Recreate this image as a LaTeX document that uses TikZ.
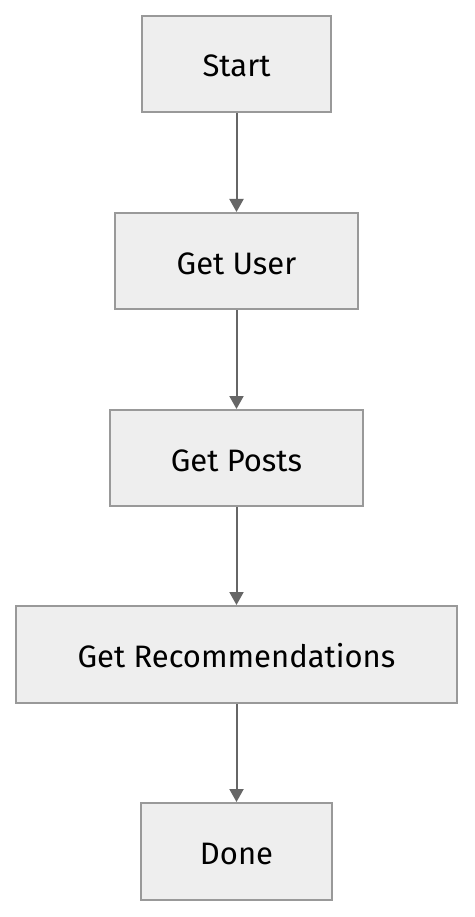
\documentclass[tikz,border=0pt]{standalone}
\usepackage{fontspec}
\setmainfont{Fira Sans}
\usetikzlibrary{arrows.meta}
\definecolor{boxfill}{HTML}{EEEEEE}
\definecolor{boxline}{HTML}{999999}
\definecolor{arrowc}{HTML}{666666}
\begin{document}
\begin{tikzpicture}[x=1pt,y=-1pt,
  stepbox/.style={draw=boxline,fill=boxfill,line width=2pt,inner sep=0pt,
    minimum height=96pt,text height=26pt,text depth=0pt,
    font=\fontsize{31}{37}\selectfont,text=black},
  flow/.style={draw=arrowc,line width=2pt,-{Triangle[length=13pt,width=14pt]}}]
\useasboundingbox (0,0) rectangle (474,917);
\fill[white] (0,0) rectangle (474,917);
\node[stepbox,minimum width=189pt] (s) at (236.5,64) {Start};
\node[stepbox,minimum width=243pt] (u) at (236.5,261) {Get User};
\node[stepbox,minimum width=253pt] (p) at (236.5,458) {Get Posts};
\node[stepbox,minimum width=441pt,minimum height=97pt] (r) at (236.5,654.5) {Get Recommendations};
\node[stepbox,minimum width=191pt,minimum height=97pt] (d) at (236.5,851.5) {Done};
\draw[flow] (s) -- (u);
\draw[flow] (u) -- (p);
\draw[flow] (p) -- (r);
\draw[flow] (r) -- (d);
\end{tikzpicture}
\end{document}
